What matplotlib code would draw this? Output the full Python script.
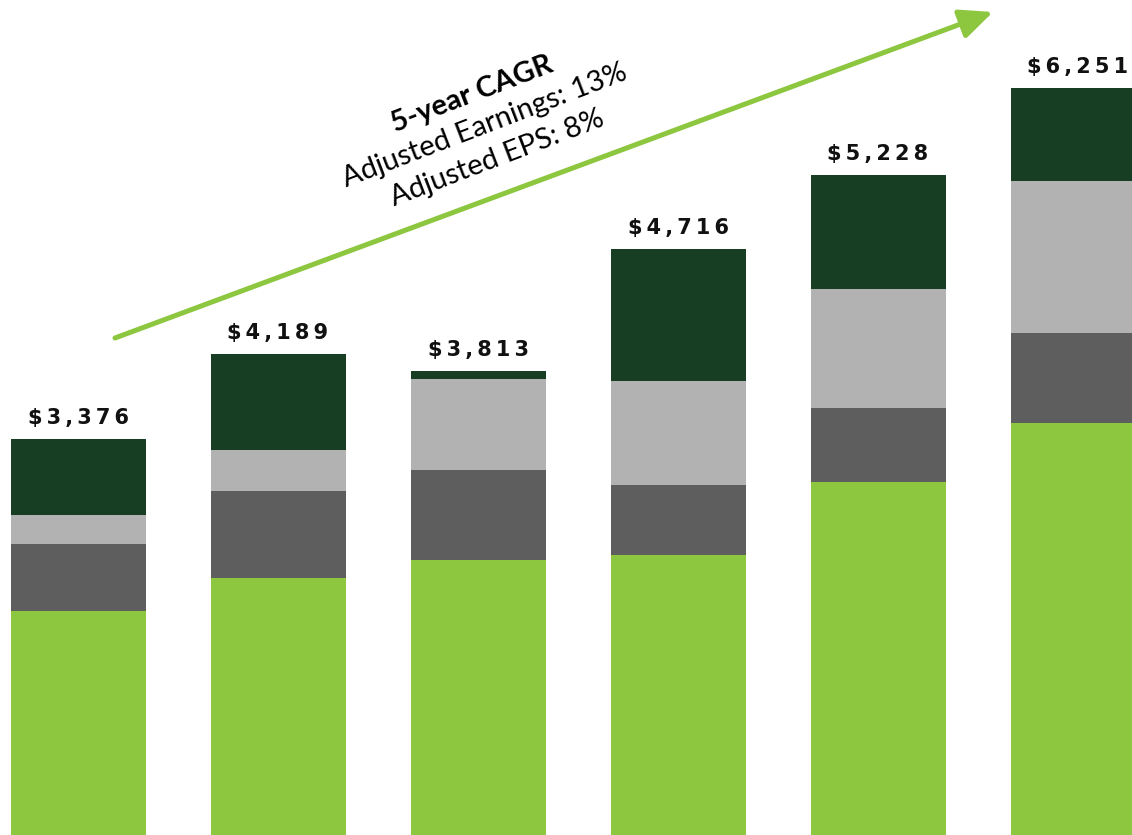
import matplotlib
matplotlib.use("Agg")
import matplotlib.pyplot as plt
import numpy as np

# Bar totals shown above each bar
totals = ["$3,376", "$4,189", "$3,813", "$4,716", "$5,228", "$6,251"]

# Segment heights (bottom to top)
seg_green = [224, 257, 275, 280, 353, 412]
seg_darkgray = [67, 87, 90, 70, 74, 90]
seg_lightgray = [29, 41, 91, 104, 119, 152]
seg_darkgreen = [76, 96, 8, 132, 114, 93]

cagr_title = "5-year CAGR"
cagr_lines = ["Adjusted Earnings: 13%", "Adjusted EPS: 8%"]

GREEN = "#8DC63F"
DARK_GRAY = "#5E5E5E"
LIGHT_GRAY = "#B2B2B2"
DARK_GREEN = "#173D23"

fig = plt.figure(figsize=(11.32, 8.35), dpi=100)
ax = fig.add_axes([0, 0, 1, 1])

x = np.arange(len(totals))
width = 0.675
bottom = np.zeros(len(x))
for vals, color in [(seg_green, GREEN), (seg_darkgray, DARK_GRAY),
                    (seg_lightgray, LIGHT_GRAY), (seg_darkgreen, DARK_GREEN)]:
    ax.bar(x, vals, width, bottom=bottom, color=color, linewidth=0)
    bottom += np.array(vals)

# labels are letter-spaced in the original, thin spaces mimic that
for xi, top, label in zip(x, bottom, totals):
    spaced = "\u2009".join(label)
    ax.annotate(spaced, (xi, top), xytext=(0, 8), textcoords="offset points",
                ha="center", va="bottom", fontsize=15, fontweight="bold",
                family="DejaVu Sans", color="#111111")

# growth arrow
ax.annotate("", xy=(4.575, 823), xytext=(0.185, 497),
            arrowprops=dict(arrowstyle="-|>,head_length=1.0,head_width=0.45",
                            lw=3.6, color=GREEN, mutation_scale=20,
                            shrinkA=0, shrinkB=0))

ax.text(1.97, 741, cagr_title, rotation=21, rotation_mode="anchor",
        ha="center", va="center", fontsize=21, fontweight="bold",
        family="Lato", color="black")
ax.text(2.035, 709, cagr_lines[0], rotation=21, rotation_mode="anchor",
        ha="center", va="center", fontsize=21, family="Lato", color="black")
ax.text(2.095, 677, cagr_lines[1], rotation=21, rotation_mode="anchor",
        ha="center", va="center", fontsize=21, family="Lato", color="black")

ax.set_xlim(-0.39, 5.27)
ax.set_ylim(0, 835)
ax.axis("off")

fig.savefig("out.png", dpi=100)
